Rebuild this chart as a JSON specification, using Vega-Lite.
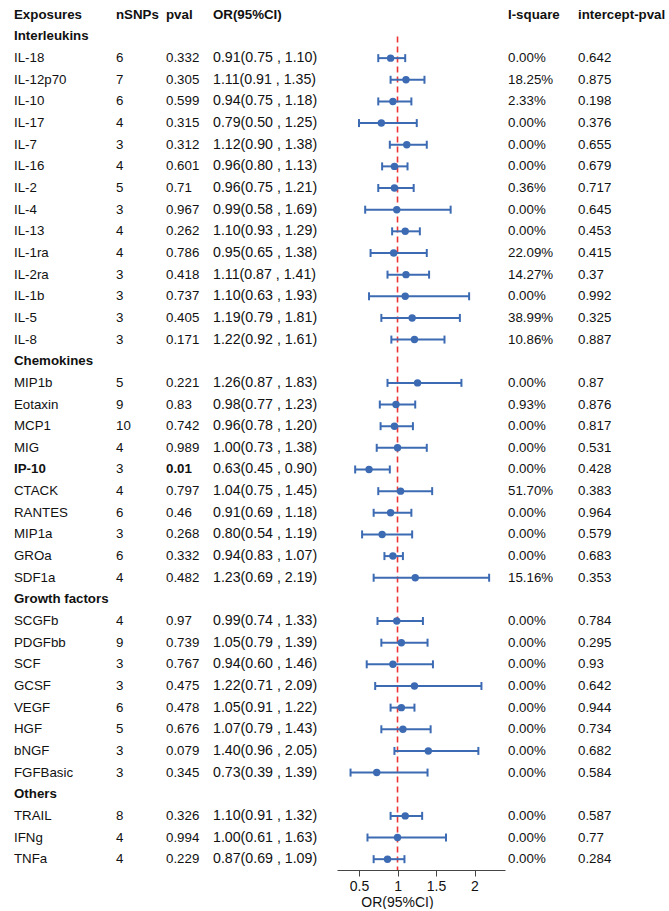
{
  "$schema": "https://vega.github.io/schema/vega-lite/v6.json",
  "padding": {"left": 0, "top": 4, "right": 0, "bottom": 0},
  "spacing": 0,
  "bounds": "flush",
  "background": "white",
  "config": {
    "view": {"stroke": null},
    "font": "Liberation Sans",
    "text": {"font": "Liberation Sans", "fontSize": 13.3, "color": "#111111", "align": "left", "baseline": "middle"}
  },
  "data": {
    "values": [
      {"i": 0, "kind": "header", "name": "Exposures", "n": "nSNPs", "p": "pval", "ci": "OR(95%CI)", "isq": "I-square", "ip": "intercept-pval"},
      {"i": 1, "kind": "group", "name": "Interleukins"},
      {"i": 2, "kind": "item", "name": "IL-18", "n": "6", "p": "0.332", "or": 0.91, "lo": 0.75, "hi": 1.10, "ci": "0.91(0.75 , 1.10)", "isq": "0.00%", "ip": "0.642"},
      {"i": 3, "kind": "item", "name": "IL-12p70", "n": "7", "p": "0.305", "or": 1.11, "lo": 0.91, "hi": 1.35, "ci": "1.11(0.91 , 1.35)", "isq": "18.25%", "ip": "0.875"},
      {"i": 4, "kind": "item", "name": "IL-10", "n": "6", "p": "0.599", "or": 0.94, "lo": 0.75, "hi": 1.18, "ci": "0.94(0.75 , 1.18)", "isq": "2.33%", "ip": "0.198"},
      {"i": 5, "kind": "item", "name": "IL-17", "n": "4", "p": "0.315", "or": 0.79, "lo": 0.50, "hi": 1.25, "ci": "0.79(0.50 , 1.25)", "isq": "0.00%", "ip": "0.376"},
      {"i": 6, "kind": "item", "name": "IL-7", "n": "3", "p": "0.312", "or": 1.12, "lo": 0.90, "hi": 1.38, "ci": "1.12(0.90 , 1.38)", "isq": "0.00%", "ip": "0.655"},
      {"i": 7, "kind": "item", "name": "IL-16", "n": "4", "p": "0.601", "or": 0.96, "lo": 0.80, "hi": 1.13, "ci": "0.96(0.80 , 1.13)", "isq": "0.00%", "ip": "0.679"},
      {"i": 8, "kind": "item", "name": "IL-2", "n": "5", "p": "0.71", "or": 0.96, "lo": 0.75, "hi": 1.21, "ci": "0.96(0.75 , 1.21)", "isq": "0.36%", "ip": "0.717"},
      {"i": 9, "kind": "item", "name": "IL-4", "n": "3", "p": "0.967", "or": 0.99, "lo": 0.58, "hi": 1.69, "ci": "0.99(0.58 , 1.69)", "isq": "0.00%", "ip": "0.645"},
      {"i": 10, "kind": "item", "name": "IL-13", "n": "4", "p": "0.262", "or": 1.10, "lo": 0.93, "hi": 1.29, "ci": "1.10(0.93 , 1.29)", "isq": "0.00%", "ip": "0.453"},
      {"i": 11, "kind": "item", "name": "IL-1ra", "n": "4", "p": "0.786", "or": 0.95, "lo": 0.65, "hi": 1.38, "ci": "0.95(0.65 , 1.38)", "isq": "22.09%", "ip": "0.415"},
      {"i": 12, "kind": "item", "name": "IL-2ra", "n": "3", "p": "0.418", "or": 1.11, "lo": 0.87, "hi": 1.41, "ci": "1.11(0.87 , 1.41)", "isq": "14.27%", "ip": "0.37"},
      {"i": 13, "kind": "item", "name": "IL-1b", "n": "3", "p": "0.737", "or": 1.10, "lo": 0.63, "hi": 1.93, "ci": "1.10(0.63 , 1.93)", "isq": "0.00%", "ip": "0.992"},
      {"i": 14, "kind": "item", "name": "IL-5", "n": "3", "p": "0.405", "or": 1.19, "lo": 0.79, "hi": 1.81, "ci": "1.19(0.79 , 1.81)", "isq": "38.99%", "ip": "0.325"},
      {"i": 15, "kind": "item", "name": "IL-8", "n": "3", "p": "0.171", "or": 1.22, "lo": 0.92, "hi": 1.61, "ci": "1.22(0.92 , 1.61)", "isq": "10.86%", "ip": "0.887"},
      {"i": 16, "kind": "group", "name": "Chemokines"},
      {"i": 17, "kind": "item", "name": "MIP1b", "n": "5", "p": "0.221", "or": 1.26, "lo": 0.87, "hi": 1.83, "ci": "1.26(0.87 , 1.83)", "isq": "0.00%", "ip": "0.87"},
      {"i": 18, "kind": "item", "name": "Eotaxin", "n": "9", "p": "0.83", "or": 0.98, "lo": 0.77, "hi": 1.23, "ci": "0.98(0.77 , 1.23)", "isq": "0.93%", "ip": "0.876"},
      {"i": 19, "kind": "item", "name": "MCP1", "n": "10", "p": "0.742", "or": 0.96, "lo": 0.78, "hi": 1.20, "ci": "0.96(0.78 , 1.20)", "isq": "0.00%", "ip": "0.817"},
      {"i": 20, "kind": "item", "name": "MIG", "n": "4", "p": "0.989", "or": 1.00, "lo": 0.73, "hi": 1.38, "ci": "1.00(0.73 , 1.38)", "isq": "0.00%", "ip": "0.531"},
      {"i": 21, "kind": "item", "name": "IP-10", "n": "3", "p": "0.01", "or": 0.63, "lo": 0.45, "hi": 0.90, "ci": "0.63(0.45 , 0.90)", "isq": "0.00%", "ip": "0.428"},
      {"i": 22, "kind": "item", "name": "CTACK", "n": "4", "p": "0.797", "or": 1.04, "lo": 0.75, "hi": 1.45, "ci": "1.04(0.75 , 1.45)", "isq": "51.70%", "ip": "0.383"},
      {"i": 23, "kind": "item", "name": "RANTES", "n": "6", "p": "0.46", "or": 0.91, "lo": 0.69, "hi": 1.18, "ci": "0.91(0.69 , 1.18)", "isq": "0.00%", "ip": "0.964"},
      {"i": 24, "kind": "item", "name": "MIP1a", "n": "3", "p": "0.268", "or": 0.80, "lo": 0.54, "hi": 1.19, "ci": "0.80(0.54 , 1.19)", "isq": "0.00%", "ip": "0.579"},
      {"i": 25, "kind": "item", "name": "GROa", "n": "6", "p": "0.332", "or": 0.94, "lo": 0.83, "hi": 1.07, "ci": "0.94(0.83 , 1.07)", "isq": "0.00%", "ip": "0.683"},
      {"i": 26, "kind": "item", "name": "SDF1a", "n": "4", "p": "0.482", "or": 1.23, "lo": 0.69, "hi": 2.19, "ci": "1.23(0.69 , 2.19)", "isq": "15.16%", "ip": "0.353"},
      {"i": 27, "kind": "group", "name": "Growth factors"},
      {"i": 28, "kind": "item", "name": "SCGFb", "n": "4", "p": "0.97", "or": 0.99, "lo": 0.74, "hi": 1.33, "ci": "0.99(0.74 , 1.33)", "isq": "0.00%", "ip": "0.784"},
      {"i": 29, "kind": "item", "name": "PDGFbb", "n": "9", "p": "0.739", "or": 1.05, "lo": 0.79, "hi": 1.39, "ci": "1.05(0.79 , 1.39)", "isq": "0.00%", "ip": "0.295"},
      {"i": 30, "kind": "item", "name": "SCF", "n": "3", "p": "0.767", "or": 0.94, "lo": 0.60, "hi": 1.46, "ci": "0.94(0.60 , 1.46)", "isq": "0.00%", "ip": "0.93"},
      {"i": 31, "kind": "item", "name": "GCSF", "n": "3", "p": "0.475", "or": 1.22, "lo": 0.71, "hi": 2.09, "ci": "1.22(0.71 , 2.09)", "isq": "0.00%", "ip": "0.642"},
      {"i": 32, "kind": "item", "name": "VEGF", "n": "6", "p": "0.478", "or": 1.05, "lo": 0.91, "hi": 1.22, "ci": "1.05(0.91 , 1.22)", "isq": "0.00%", "ip": "0.944"},
      {"i": 33, "kind": "item", "name": "HGF", "n": "5", "p": "0.676", "or": 1.07, "lo": 0.79, "hi": 1.43, "ci": "1.07(0.79 , 1.43)", "isq": "0.00%", "ip": "0.734"},
      {"i": 34, "kind": "item", "name": "bNGF", "n": "3", "p": "0.079", "or": 1.40, "lo": 0.96, "hi": 2.05, "ci": "1.40(0.96 , 2.05)", "isq": "0.00%", "ip": "0.682"},
      {"i": 35, "kind": "item", "name": "FGFBasic", "n": "3", "p": "0.345", "or": 0.73, "lo": 0.39, "hi": 1.39, "ci": "0.73(0.39 , 1.39)", "isq": "0.00%", "ip": "0.584"},
      {"i": 36, "kind": "group", "name": "Others"},
      {"i": 37, "kind": "item", "name": "TRAIL", "n": "8", "p": "0.326", "or": 1.10, "lo": 0.91, "hi": 1.32, "ci": "1.10(0.91 , 1.32)", "isq": "0.00%", "ip": "0.587"},
      {"i": 38, "kind": "item", "name": "IFNg", "n": "4", "p": "0.994", "or": 1.00, "lo": 0.61, "hi": 1.63, "ci": "1.00(0.61 , 1.63)", "isq": "0.00%", "ip": "0.77"},
      {"i": 39, "kind": "item", "name": "TNFa", "n": "4", "p": "0.229", "or": 0.87, "lo": 0.69, "hi": 1.09, "ci": "0.87(0.69 , 1.09)", "isq": "0.00%", "ip": "0.284"}
    ]
  },
  "hconcat": [
    {
      "width": 337,
      "height": 866,
      "encoding": {
        "y": {"field": "i", "type": "quantitative", "scale": {"domain": [-0.5, 39.5], "reverse": true, "nice": false, "zero": false}, "axis": null}
      },
      "layer": [
        {
          "transform": [{"filter": "datum.kind == 'item' && toNumber(datum.p) >= 0.05"}],
          "mark": {"type": "text"},
          "encoding": {
            "x": {"datum": 14, "type": "quantitative", "scale": {"domain": [0, 337], "nice": false, "zero": false}, "axis": null},
            "text": {"field": "name"}
          }
        },
        {
          "transform": [{"filter": "datum.kind != 'item' || toNumber(datum.p) < 0.05"}],
          "mark": {"type": "text", "fontWeight": "bold"},
          "encoding": {
            "x": {"datum": 14, "type": "quantitative"},
            "text": {"field": "name"}
          }
        },
        {
          "transform": [{"filter": "datum.kind == 'item'"}],
          "mark": {"type": "text"},
          "encoding": {
            "x": {"datum": 116, "type": "quantitative"},
            "text": {"field": "n"}
          }
        },
        {
          "transform": [{"filter": "datum.kind == 'header'"}],
          "mark": {"type": "text", "fontWeight": "bold"},
          "encoding": {
            "x": {"datum": 116, "type": "quantitative"},
            "text": {"field": "n"}
          }
        },
        {
          "transform": [{"filter": "datum.kind == 'item' && toNumber(datum.p) >= 0.05"}],
          "mark": {"type": "text"},
          "encoding": {
            "x": {"datum": 166, "type": "quantitative"},
            "text": {"field": "p"}
          }
        },
        {
          "transform": [{"filter": "datum.kind == 'header' || (datum.kind == 'item' && toNumber(datum.p) < 0.05)"}],
          "mark": {"type": "text", "fontWeight": "bold"},
          "encoding": {
            "x": {"datum": 166, "type": "quantitative"},
            "text": {"field": "p"}
          }
        },
        {
          "transform": [{"filter": "datum.kind == 'item'"}],
          "mark": {"type": "text", "fontSize": 14.2},
          "encoding": {
            "x": {"datum": 213, "type": "quantitative"},
            "text": {"field": "ci"}
          }
        },
        {
          "transform": [{"filter": "datum.kind == 'header'"}],
          "mark": {"type": "text", "fontWeight": "bold"},
          "encoding": {
            "x": {"datum": 213, "type": "quantitative"},
            "text": {"field": "ci"}
          }
        }
      ]
    },
    {
      "width": 168,
      "height": 866,
      "layer": [
        {
          "data": {"values": [{"ref": 1, "top": 1, "bottom": 39.5}]},
          "mark": {"type": "rule", "color": "#EE3535", "strokeDash": [6, 4], "strokeWidth": 1.6},
          "encoding": {
            "x": {"field": "ref", "type": "quantitative"},
            "y": {"field": "top", "type": "quantitative"},
            "y2": {"field": "bottom"}
          }
        },
        {
          "transform": [{"filter": "datum.kind == 'item'"}],
          "mark": {"type": "rule", "color": "#3C6BB3", "strokeWidth": 2},
          "encoding": {
            "x": {"field": "lo", "type": "quantitative"},
            "x2": {"field": "hi"},
            "y": {"field": "i", "type": "quantitative"}
          }
        },
        {
          "transform": [{"filter": "datum.kind == 'item'"}],
          "mark": {"type": "tick", "orient": "vertical", "color": "#3C6BB3", "thickness": 2, "size": 8, "opacity": 1},
          "encoding": {
            "x": {"field": "lo", "type": "quantitative"},
            "y": {"field": "i", "type": "quantitative"}
          }
        },
        {
          "transform": [{"filter": "datum.kind == 'item'"}],
          "mark": {"type": "tick", "orient": "vertical", "color": "#3C6BB3", "thickness": 2, "size": 8, "opacity": 1},
          "encoding": {
            "x": {"field": "hi", "type": "quantitative"},
            "y": {"field": "i", "type": "quantitative"}
          }
        },
        {
          "transform": [{"filter": "datum.kind == 'item'"}],
          "mark": {"type": "point", "filled": true, "color": "#3C6BB3", "size": 55, "opacity": 1},
          "encoding": {
            "x": {"field": "or", "type": "quantitative"},
            "y": {"field": "i", "type": "quantitative"}
          }
        }
      ],
      "encoding": {
        "x": {
          "type": "quantitative",
          "scale": {"domain": [0.214, 2.396], "nice": false, "zero": false},
          "axis": {
            "values": [0.5, 1, 1.5, 2],
            "format": "~g",
            "grid": false,
            "title": "OR(95%CI)",
            "titleX": 60,
            "titleAlign": "center",
            "titleFont": "Liberation Sans",
            "titleFontWeight": "normal",
            "titleFontSize": 14,
            "titleColor": "#111111",
            "titlePadding": 2,
            "labelFont": "Liberation Sans",
            "labelFontSize": 14,
            "labelColor": "#111111",
            "labelPadding": 3,
            "labelFlush": false,
            "domainColor": "#444444",
            "tickColor": "#444444",
            "tickSize": 6
          }
        },
        "y": {"type": "quantitative", "scale": {"domain": [-0.5, 39.5], "reverse": true, "nice": false, "zero": false}, "axis": null}
      }
    },
    {
      "width": 164,
      "height": 866,
      "encoding": {
        "y": {"field": "i", "type": "quantitative", "scale": {"domain": [-0.5, 39.5], "reverse": true, "nice": false, "zero": false}, "axis": null}
      },
      "layer": [
        {
          "transform": [{"filter": "datum.kind == 'item'"}],
          "mark": {"type": "text"},
          "encoding": {
            "x": {"datum": 508, "type": "quantitative", "scale": {"domain": [505, 669], "nice": false, "zero": false}, "axis": null},
            "text": {"field": "isq"}
          }
        },
        {
          "transform": [{"filter": "datum.kind == 'header'"}],
          "mark": {"type": "text", "fontWeight": "bold"},
          "encoding": {
            "x": {"datum": 508, "type": "quantitative"},
            "text": {"field": "isq"}
          }
        },
        {
          "transform": [{"filter": "datum.kind == 'item'"}],
          "mark": {"type": "text"},
          "encoding": {
            "x": {"datum": 578, "type": "quantitative"},
            "text": {"field": "ip"}
          }
        },
        {
          "transform": [{"filter": "datum.kind == 'header'"}],
          "mark": {"type": "text", "fontWeight": "bold"},
          "encoding": {
            "x": {"datum": 578, "type": "quantitative"},
            "text": {"field": "ip"}
          }
        }
      ]
    }
  ]
}
